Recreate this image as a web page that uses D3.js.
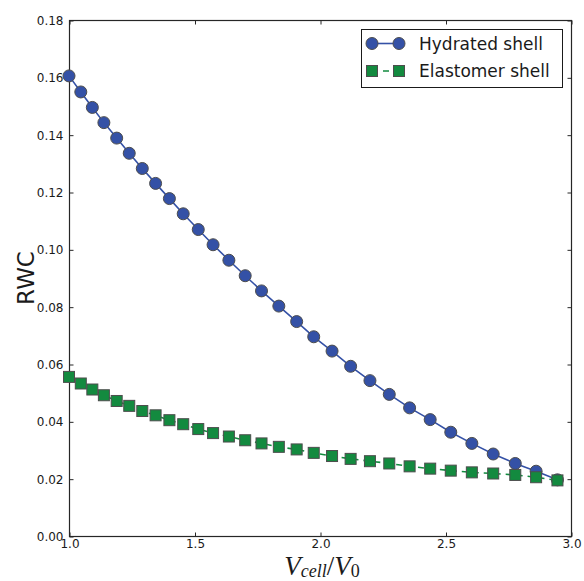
<!DOCTYPE html>
<html>
<head>
<meta charset="utf-8">
<script src="https://cdn.jsdelivr.net/npm/d3@7/dist/d3.min.js"></script>
<style>
  html, body { margin: 0; padding: 0; background: #fff; }
  svg { display: block; }
  text { font-family: "DejaVu Sans", sans-serif; fill: #1a1a1a; }
</style>
</head>
<body>
<svg id="chart" width="584" height="581"></svg>
<script>
// Cell volume ratio V_cell / V_0 (shared by both series)
const volumeRatio = [1.000, 1.047, 1.093, 1.139, 1.190, 1.240, 1.292, 1.345, 1.400, 1.455,
                     1.515, 1.574, 1.637, 1.702, 1.767, 1.836, 1.907, 1.975, 2.048, 2.122,
                     2.199, 2.276, 2.357, 2.439, 2.521, 2.605, 2.690, 2.778, 2.861, 2.946];

// Relative water content, hydrated shell
const hydratedRWC = [0.1605, 0.1549, 0.1495, 0.1442, 0.1388, 0.1335, 0.1282, 0.1230, 0.1177, 0.1124,
                     0.1069, 0.1016, 0.0962, 0.0908, 0.0855, 0.0802, 0.0748, 0.0695, 0.0645, 0.0592,
                     0.0542, 0.0494, 0.0447, 0.0406, 0.0362, 0.0323, 0.0286, 0.0253, 0.0226, 0.0196];

// Relative water content, elastomer shell
const elastomerRWC = [0.0555, 0.0532, 0.0511, 0.0491, 0.0471, 0.0454, 0.0436, 0.0421, 0.0404, 0.0390,
                      0.0373, 0.0359, 0.0347, 0.0334, 0.0323, 0.0311, 0.0302, 0.0290, 0.0279, 0.0269,
                      0.0261, 0.0253, 0.0243, 0.0235, 0.0228, 0.0222, 0.0218, 0.0213, 0.0205, 0.0194];

const seriesNames = ["Hydrated shell", "Elastomer shell"];
const xTicks = [1.0, 1.5, 2.0, 2.5, 3.0];
const yTicks = [0.00, 0.02, 0.04, 0.06, 0.08, 0.10, 0.12, 0.14, 0.16, 0.18];

const svg = d3.select("#chart");
const plot = { left: 69, right: 571, top: 20, bottom: 536 };

const x = d3.scaleLinear().domain([1.0, 3.0]).range([plot.left, plot.right]);
const y = d3.scaleLinear().domain([0, 0.18]).range([plot.bottom, plot.top]);

const blue = "#3451a6";
const green = "#138a3f";
const edge = "#4d4d4d";

// Frame
const frameColor = "#262626";
svg.append("rect")
  .attr("x", plot.left + 0.5).attr("y", plot.top + 0.5)
  .attr("width", plot.right - plot.left).attr("height", plot.bottom - plot.top)
  .attr("fill", "none").attr("stroke", frameColor).attr("stroke-width", 1.2);

// Inward ticks on all four sides
const tickLen = 4;
const fmtX = d3.format(".1f");
const fmtY = d3.format(".2f");

const bottomAxis = d3.axisBottom(x).tickValues(xTicks).tickSizeInner(-tickLen).tickSizeOuter(0).tickPadding(3).tickFormat(fmtX);
const topAxis = d3.axisTop(x).tickValues(xTicks).tickSizeInner(-tickLen).tickSizeOuter(0).tickFormat("");
const leftAxis = d3.axisLeft(y).tickValues(yTicks).tickSizeInner(-tickLen).tickSizeOuter(0).tickPadding(6).tickFormat(fmtY);
const rightAxis = d3.axisRight(y).tickValues(yTicks).tickSizeInner(-tickLen).tickSizeOuter(0).tickFormat("");

function styleAxis(g) {
  g.select(".domain").remove();
  g.selectAll(".tick line").attr("stroke", frameColor).attr("stroke-width", 1);
  g.selectAll(".tick text")
    .attr("font-family", "DejaVu Sans, sans-serif")
    .attr("font-size", 12).attr("fill", "#1a1a1a");
}

svg.append("g").attr("transform", `translate(0.5,${plot.bottom + 0.5})`).call(bottomAxis).call(styleAxis);
svg.append("g").attr("transform", `translate(0.5,${plot.top + 0.5})`).call(topAxis).call(styleAxis);
svg.append("g").attr("transform", `translate(${plot.left + 0.5},0.5)`).call(leftAxis).call(styleAxis);
svg.append("g").attr("transform", `translate(${plot.right + 0.5},0.5)`).call(rightAxis).call(styleAxis);

// Axis titles
svg.append("text")
  .attr("transform", `translate(34,${(plot.top + plot.bottom) / 2}) rotate(-90)`)
  .attr("text-anchor", "middle")
  .attr("font-size", 23)
  .text("RWC");

const xt = svg.append("text")
  .attr("x", (plot.left + plot.right) / 2 + 2).attr("y", 575)
  .attr("text-anchor", "middle")
  .style("font-family", "'Liberation Serif', 'DejaVu Serif', serif")
  .attr("font-size", 27);
xt.append("tspan").attr("font-style", "italic").text("V");
xt.append("tspan").attr("font-style", "italic").attr("font-size", 18).attr("dy", 2).text("cell");
xt.append("tspan").attr("dy", -2).text("/");
xt.append("tspan").attr("font-style", "italic").text("V");
xt.append("tspan").attr("font-size", 18).attr("dy", 2).text("0");

// Series
const hydrated = volumeRatio.map((v, i) => ({ x: v, y: hydratedRWC[i] }));
const elastomer = volumeRatio.map((v, i) => ({ x: v, y: elastomerRWC[i] }));

const line = d3.line().x(d => x(d.x)).y(d => y(d.y));

const gPlot = svg.append("g");

gPlot.append("path").datum(hydrated)
  .attr("d", line).attr("fill", "none")
  .attr("stroke", blue).attr("stroke-width", 1.6);
gPlot.selectAll("circle.hyd").data(hydrated).enter().append("circle")
  .attr("class", "hyd")
  .attr("cx", d => x(d.x)).attr("cy", d => y(d.y)).attr("r", 6)
  .attr("fill", blue).attr("stroke", edge).attr("stroke-width", 1);

const sq = 11;
gPlot.append("path").datum(elastomer)
  .attr("d", line).attr("fill", "none")
  .attr("stroke", green).attr("stroke-width", 1.6)
  .attr("stroke-dasharray", "6,5");
gPlot.selectAll("rect.ela").data(elastomer).enter().append("rect")
  .attr("class", "ela")
  .attr("x", d => x(d.x) - sq / 2).attr("y", d => y(d.y) - sq / 2)
  .attr("width", sq).attr("height", sq)
  .attr("fill", green).attr("stroke", edge).attr("stroke-width", 1);

// Legend
const lg = svg.append("g").attr("transform", "translate(361,29)");
lg.append("rect").attr("x", 0.5).attr("y", 0.5).attr("width", 201).attr("height", 58)
  .attr("fill", "#fff").attr("stroke", "#1a1a1a").attr("stroke-width", 1);

const rows = [
  { name: seriesNames[0], color: blue, dash: null, shape: "circle", cy: 14.5 },
  { name: seriesNames[1], color: green, dash: "6,5", shape: "square", cy: 42 }
];
rows.forEach(r => {
  const x0 = 11, x1 = 38;
  lg.append("line").attr("x1", x0).attr("x2", x1).attr("y1", r.cy).attr("y2", r.cy)
    .attr("stroke", r.color).attr("stroke-width", 1.6)
    .attr("stroke-dasharray", r.dash);
  [x0, x1].forEach(cx => {
    if (r.shape === "circle") {
      lg.append("circle").attr("cx", cx).attr("cy", r.cy).attr("r", 6)
        .attr("fill", r.color).attr("stroke", edge).attr("stroke-width", 1);
    } else {
      lg.append("rect").attr("x", cx - sq / 2).attr("y", r.cy - sq / 2)
        .attr("width", sq).attr("height", sq)
        .attr("fill", r.color).attr("stroke", edge).attr("stroke-width", 1);
    }
  });
  lg.append("text").attr("x", 58).attr("y", r.cy).attr("dy", "0.36em")
    .attr("font-size", 17).text(r.name);
});
</script>
</body>
</html>
